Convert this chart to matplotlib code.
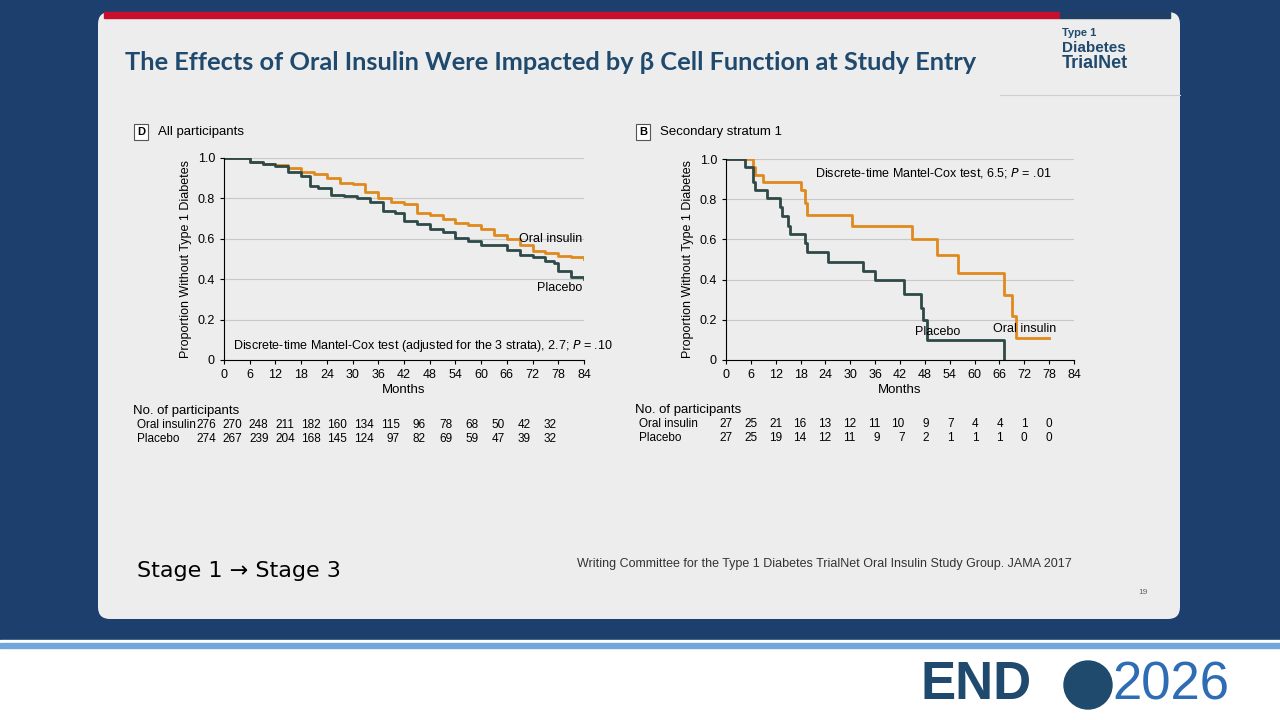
import numpy as np
import matplotlib.pyplot as plt
from matplotlib.patches import FancyBboxPatch, Rectangle

plt.rcParams['font.family'] = ['Liberation Sans', 'DejaVu Sans']

# panel D: all participants
d_oral_t = [0, 4, 6, 9, 12, 15, 18, 21, 24, 27, 30, 33, 36, 39, 42, 45, 48, 51, 54, 57, 60, 63, 66, 69, 72, 75, 78, 81, 84]
d_oral_s = [1.0, 1.0, 0.98, 0.97, 0.965, 0.95, 0.93, 0.92, 0.90, 0.875, 0.87, 0.83, 0.80, 0.78, 0.77, 0.73, 0.72, 0.70,
            0.68, 0.67, 0.65, 0.62, 0.60, 0.57, 0.54, 0.53, 0.515, 0.51, 0.50]
d_plac_t = [0, 4, 6, 9, 12, 15, 18, 20, 22, 25, 28, 31, 34, 37, 40, 42, 45, 48, 51, 54, 57, 60, 63, 66, 69, 72, 75, 77, 78, 81, 84]
d_plac_s = [1.0, 1.0, 0.98, 0.97, 0.96, 0.93, 0.91, 0.86, 0.85, 0.815, 0.81, 0.80, 0.78, 0.74, 0.73, 0.69, 0.675, 0.65,
            0.635, 0.605, 0.59, 0.57, 0.57, 0.545, 0.52, 0.51, 0.49, 0.48, 0.44, 0.41, 0.40]
d_risk_oral = [276, 270, 248, 211, 182, 160, 134, 115, 96, 78, 68, 50, 42, 32]
d_risk_plac = [274, 267, 239, 204, 168, 145, 124, 97, 82, 69, 59, 47, 39, 32]

# panel B: secondary stratum 1
b_oral_t = [0, 6.5, 7, 9, 18, 19, 19.5, 30.5, 45, 51, 56, 67, 69, 70, 78]
b_oral_s = [1.0, 0.96, 0.92, 0.885, 0.845, 0.78, 0.72, 0.665, 0.60, 0.52, 0.435, 0.325, 0.22, 0.11, 0.11]
b_plac_t = [0, 4.5, 6.5, 7, 10, 13, 13.5, 15, 15.5, 19, 19.5, 24.5, 33, 36, 43, 47, 47.5, 48.5, 67, 67]
b_plac_s = [1.0, 0.96, 0.885, 0.845, 0.805, 0.76, 0.715, 0.665, 0.625, 0.58, 0.535, 0.49, 0.445, 0.40, 0.33, 0.26,
            0.20, 0.10, 0.0, 0.0]
b_risk_oral = [27, 25, 21, 16, 13, 12, 11, 10, 9, 7, 4, 4, 1, 0]
b_risk_plac = [27, 25, 19, 14, 12, 11, 9, 7, 2, 1, 1, 1, 0, 0]

ORANGE = '#E08A1E'
TEAL = '#2E4A48'
NAVY = '#1F4A6E'
W, H = 1280, 720

fig = plt.figure(figsize=(12.8, 7.2), dpi=100)
fig.patch.set_facecolor('#1D3F6E')

def fx(x): return x / W
def fy(y): return 1 - y / H

bg = fig.add_axes([0, 0, 1, 1])
bg.set_xlim(0, W); bg.set_ylim(H, 0); bg.axis('off')
bg.add_patch(Rectangle((0, 640), W, 80, color='white'))
bg.add_patch(Rectangle((0, 643), W, 5, color='#6FA8D8'))
bg.add_patch(FancyBboxPatch((98, 12), 1082, 607, boxstyle='round,pad=0,rounding_size=12', fc='#EDEDED', ec='none'))
bg.add_patch(Rectangle((104, 12), 956, 6, color='#C8102E'))
bg.add_patch(Rectangle((1060, 12), 110, 6, color='#1F3F66'))
bg.plot([1000, 1180], [95, 95], color='#D0D0D0', lw=0.8)
bg.text(125, 63, 'The Effects of Oral Insulin Were Impacted by β Cell Function at Study Entry',
        fontsize=18.3, fontweight='bold', color=NAVY, va='center', family='Lato')
bg.text(1062, 33, 'Type 1', fontsize=8, fontweight='bold', color=NAVY, va='center')
bg.text(1062, 48, 'Diabetes', fontsize=11, fontweight='bold', color=NAVY, va='center')
bg.text(1062, 64, 'TrialNet', fontsize=13, fontweight='bold', color=NAVY, va='center')
bg.text(137, 571, 'Stage 1 → Stage 3', fontsize=16, color='black', va='center', family='DejaVu Sans')
bg.text(577, 564, 'Writing Committee for the Type 1 Diabetes TrialNet Oral Insulin Study Group. JAMA 2017',
        fontsize=9, color='#333333', va='center')
bg.text(1138, 593, '19', fontsize=6, color='#666666', va='center')
bg.text(920, 685, 'END', fontsize=38, fontweight='bold', color=NAVY, va='center')
bg.text(1112, 685, '2026', fontsize=38, color='#2E6DB4', va='center')
bg.add_patch(plt.Circle((1088, 685), 24, color=NAVY))

def km_panel(rect, letter, label, oral_t, oral_s, plac_t, plac_s, risk_o, risk_p, risk_x, table_y):
    ax = fig.add_axes(rect)
    ax.set_facecolor('#EDEDED')
    ax.step(oral_t, oral_s, where='post', color=ORANGE, lw=2)
    ax.step(plac_t, plac_s, where='post', color=TEAL, lw=2)
    ax.set_xlim(0, 84); ax.set_ylim(0, 1.0)
    ax.set_xticks(range(0, 85, 6))
    ax.set_yticks([0, 0.2, 0.4, 0.6, 0.8, 1.0])
    ax.set_yticklabels(['0', '0.2', '0.4', '0.6', '0.8', '1.0'])
    ax.grid(axis='y', color='#C8C8C8', lw=0.8)
    ax.set_axisbelow(True)
    for s in ['top', 'right']:
        ax.spines[s].set_visible(False)
    ax.tick_params(labelsize=9, length=3)
    ax.set_xlabel('Months', fontsize=9.5, labelpad=2)
    ax.set_ylabel('Proportion Without Type 1 Diabetes', fontsize=9)
    x0 = rect[0] * W
    bg.text(x0 - 83, 132, letter, fontsize=8, fontweight='bold', va='center', ha='center',
            bbox=dict(boxstyle='square,pad=0.3', fc='white', ec='#555555', lw=0.8))
    bg.text(x0 - 66, 132, label, fontsize=9.5, va='center')
    bg.text(x0 - 91, table_y, 'No. of participants', fontsize=9.5, va='center')
    bg.text(x0 - 87, table_y + 14, 'Oral insulin', fontsize=8.5, va='center')
    bg.text(x0 - 87, table_y + 28, 'Placebo', fontsize=8.5, va='center')
    for xi, a, b in zip(risk_x, risk_o, risk_p):
        bg.text(xi, table_y + 14, str(a), fontsize=8.5, va='center', ha='right')
        bg.text(xi, table_y + 28, str(b), fontsize=8.5, va='center', ha='right')
    return ax

axd = km_panel([fx(224), fy(360), fx(360), 202 / H], 'D', 'All participants',
               d_oral_t, d_oral_s, d_plac_t, d_plac_s, d_risk_oral, d_risk_plac,
               np.linspace(216, 557, 14), 411)
axd.text(83.5, 0.6, 'Oral insulin', fontsize=9, ha='right', va='center')
axd.text(83.5, 0.355, 'Placebo', fontsize=9, ha='right', va='center')
axd.text(2, 0.07, 'Discrete-time Mantel-Cox test (adjusted for the 3 strata), 2.7; $P$ = .10', fontsize=9, va='center')

axb = km_panel([fx(726), fy(360), fx(348), 201 / H], 'B', 'Secondary stratum 1',
               b_oral_t, b_oral_s, b_plac_t, b_plac_s, b_risk_oral, b_risk_plac,
               np.linspace(733, 1052, 14), 410)
axb.text(72, 0.155, 'Oral insulin', fontsize=9, ha='center', va='center')
axb.text(51, 0.14, 'Placebo', fontsize=9, ha='center', va='center')
axb.text(50, 0.93, 'Discrete-time Mantel-Cox test, 6.5; $P$ = .01', fontsize=9, ha='center', va='center')

fig.savefig('out.png', dpi=100, facecolor=fig.get_facecolor())
